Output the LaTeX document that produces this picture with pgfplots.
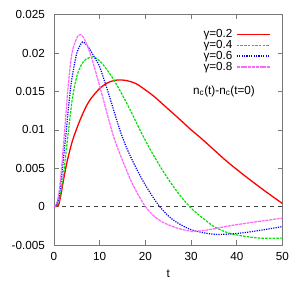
\documentclass[border=0pt]{standalone}
\usepackage{fontspec}
\setmainfont{Liberation Sans}
\usepackage{pgfplots}
\pgfplotsset{compat=1.18}
\pgfplotsset{legend image code/.code={\draw[#1] (0pt,0pt) -- (33pt,0pt);}}
\definecolor{cRed}{RGB}{255,0,0}
\definecolor{cGreen}{RGB}{0,225,0}
\definecolor{cBlue}{RGB}{0,0,255}
\definecolor{cMag}{RGB}{255,100,255}
\definecolor{axgray}{RGB}{120,120,120}
\begin{document}
\begin{tikzpicture}
\fontsize{11.7}{14}\selectfont
\begin{axis}[
  scale only axis,
  width=228.5pt, height=230.3pt,
  xmin=0, xmax=50, ymin=-0.005, ymax=0.025,
  xtick={0,10,20,30,40,50},
  ytick={-0.005,0,0.005,0.01,0.015,0.02,0.025},
  yticklabels={-0.005,0,0.005,0.01,0.015,0.02,0.025},
  scaled y ticks=false,
  /pgf/number format/assume math mode=true,
  tick label style={font=\fontsize{11.7}{14}\selectfont},
  xticklabel style={yshift=-3.5pt},
  yticklabel style={xshift=-5pt},
  tick align=inside, tick pos=both,
  major tick length=4.5pt,
  axis line style={axgray, line width=0.8pt},
  every tick/.style={axgray, line width=0.6pt},
  xlabel={t},
  xlabel style={at={(axis description cs:0.5,0)}, anchor=north, yshift=-21pt},
  legend style={draw=none, fill=none, inner sep=0pt, outer sep=0pt,
    at={(axis description cs:0.9475,0.938)}, anchor=north east,
    font=\fontsize{11.7}{14}\selectfont,
    nodes={inner sep=0.5pt},
    row sep=-0.1pt, column sep=3pt},
  legend image post style={line width=1.5pt},
  legend cell align=right,
  legend plot pos=right,
  clip=true,
]
\addplot[forget plot, black!75, line width=0.6pt, dash pattern=on 4pt off 4pt] coordinates {(0,0) (50,0)};

\addplot[color=cRed, line width=1.3pt, smooth] coordinates {
(0,0) (0.5,0.00003) (1,0.0002) (1.5,0.0015) (2,0.0032) (2.5,0.0048) (3,0.0062)
(4,0.0085) (5,0.0102) (6,0.0117) (7,0.0130) (8,0.0140) (10,0.0154) (12,0.0162)
(14,0.0165) (16,0.0164) (18,0.0160) (20,0.0152) (22,0.0143) (25,0.0127)
(28,0.0111) (30,0.0100) (32,0.0090) (35,0.0074) (38,0.0058) (42,0.0039)
(46,0.0021) (50,0.0004)};
\addlegendentry{γ=0.2}

\addplot[color=cGreen, line width=1.2pt, smooth, dash pattern=on 2.5pt off 1.2pt] coordinates {
(0,0) (0.5,0.0001) (1,0.0006) (1.5,0.0020) (2,0.0038) (3,0.0090) (4,0.0140)
(5,0.0170) (6,0.0185) (7,0.0192) (8.5,0.0195) (10,0.0190) (12,0.0175)
(13.3,0.0163) (15,0.0145) (17,0.0122) (18.8,0.0100) (21,0.0075) (24,0.0045)
(27,0.0019) (30,-0.0002) (33,-0.0017) (35,-0.0026) (38,-0.0034) (41,-0.0038)
(45,-0.0041) (50,-0.0041)};
\addlegendentry{γ=0.4}

\addplot[color=cBlue, line width=1.2pt, smooth, dash pattern=on 1.2pt off 1.2pt] coordinates {
(0,0) (0.5,0.0002) (1,0.0010) (1.5,0.0030) (2,0.0058) (2.5,0.0088) (3,0.0118)
(3.5,0.0148) (4,0.0170) (5,0.0200) (6,0.0213) (6.5,0.0214) (7.5,0.0208)
(9,0.0193) (10,0.0182) (12,0.0146) (14.4,0.0100) (16,0.0075) (18,0.0050)
(20,0.0028) (23,0.0001) (26,-0.0017) (30,-0.0030) (35,-0.0036) (40,-0.0035)
(45,-0.0031) (50,-0.0026)};
\addlegendentry{γ=0.6}

\addplot[color=cMag, line width=1.2pt, smooth, dash pattern=on 3pt off 0.8pt] coordinates {
(0,0) (0.5,0.0003) (1,0.0015) (1.5,0.0040) (2,0.0075) (2.5,0.0112) (3,0.0150)
(3.5,0.0180) (4,0.0202) (5,0.0220) (5.7,0.0224) (6.5,0.0220) (8,0.0198)
(10,0.0157) (12.6,0.0100) (14,0.0075) (16.6,0.0037) (18,0.0020) (20,0.0000)
(22,-0.0013) (24,-0.0021) (27,-0.0028) (30,-0.0032) (33,-0.0031)
(38.4,-0.0025) (44,-0.0020) (50,-0.0015)};
\addlegendentry{γ=0.8}

\node[font=\fontsize{11.7}{14}\selectfont, inner sep=0pt] at (axis description cs:0.744,0.668) {n\textsubscript{c}(t)-n\textsubscript{c}(t=0)};
\end{axis}
\path (current axis.south west) ++(-54pt,-37pt) coordinate (bbA);
\path (current axis.north east) ++(13.5pt,14.7pt) coordinate (bbB);
\path (bbA) rectangle (bbB);
\end{tikzpicture}
\end{document}
